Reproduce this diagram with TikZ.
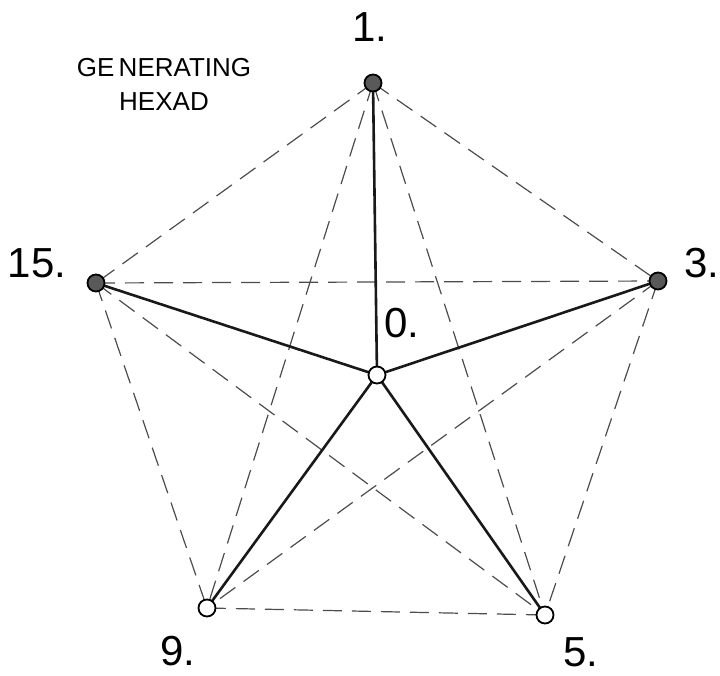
\documentclass[tikz,border=0pt]{standalone}
\usepackage{fontspec}
\setmainfont{Liberation Sans}
\begin{document}
\begin{tikzpicture}[x=1pt,y=-1pt,
  vert/.style={circle,draw=black,line width=1.8pt,minimum size=17pt,inner sep=0pt},
  fullv/.style={vert,fill=black!65},
  openv/.style={vert,fill=white},
  spoke/.style={line width=2.6pt,black!90},
  chord/.style={line width=1.2pt,black!70,dash pattern=on 19pt off 10pt},
  lab/.style={font=\fontsize{42}{42}\selectfont,inner sep=0pt,anchor=center},
  title/.style={font=\fontsize{26}{34}\selectfont,inner sep=0pt,align=center}]
\useasboundingbox (0,0) rectangle (720,675);
\coordinate (p1) at (373,83);
\coordinate (p3) at (658,281);
\coordinate (p15) at (96,283);
\coordinate (p0) at (377,375);
\coordinate (p9) at (207,608);
\coordinate (p5) at (545,615);
\draw[chord] (p1) -- (p3);
\draw[chord] (p1) -- (p15);
\draw[chord] (p1) -- (p9);
\draw[chord] (p1) -- (p5);
\draw[chord] (p15) -- (p3);
\draw[chord] (p15) -- (p9);
\draw[chord] (p15) -- (p5);
\draw[chord] (p3) -- (p9);
\draw[chord] (p3) -- (p5);
\draw[chord] (p9) -- (p5);
\draw[spoke] (p0) -- (p1);
\draw[spoke] (p0) -- (p3);
\draw[spoke] (p0) -- (p15);
\draw[spoke] (p0) -- (p9);
\draw[spoke] (p0) -- (p5);
\node[fullv] (n1) at (p1) {};
\node[fullv] (n3) at (p3) {};
\node[fullv] (n15) at (p15) {};
\node[openv] (n0) at (p0) {};
\node[openv] (n9) at (p9) {};
\node[openv] (n5) at (p5) {};
\node[lab] (l1) at (370,27) {1.};
\node[lab] (l3) at (702,263) {3.};
\node[lab] (l15) at (37,263) {15.};
\node[lab] (l0) at (402,323) {0.};
\node[lab] (l9) at (178,651) {9.};
\node[lab] (l5) at (581,652) {5.};
\node[title] (t) at (164,84) {GE\,NERATING\\HEXAD};
\end{tikzpicture}
\end{document}
